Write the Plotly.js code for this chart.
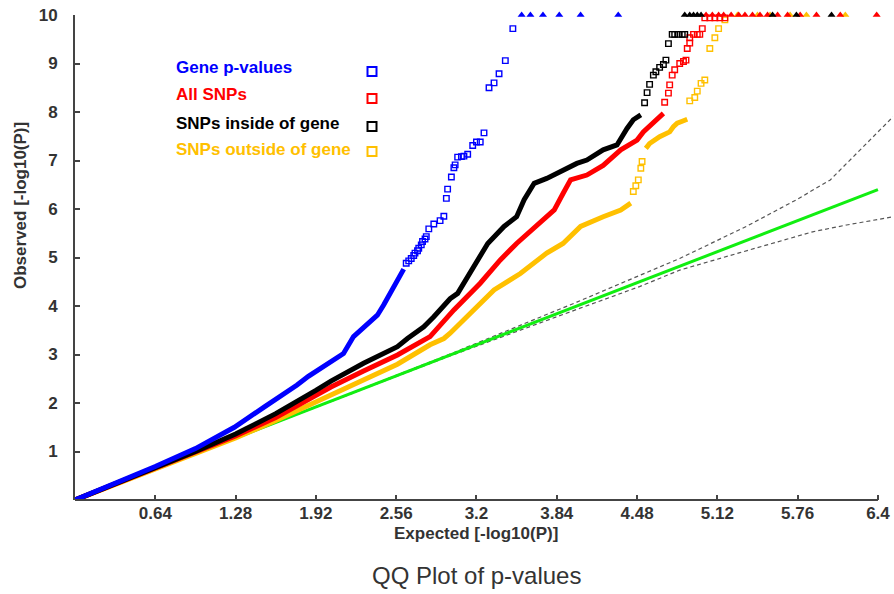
<!DOCTYPE html>
<html>
<head>
<meta charset="utf-8">
<script src="https://cdn.plot.ly/plotly-3.0.1.min.js"></script>
<style>html,body{margin:0;padding:0;background:#fff;}#chart{width:894px;height:594px;}</style>
</head>
<body>
<div id="chart"></div>
<script>
// ---- Data ----
const xTickVals = [0.64, 1.28, 1.92, 2.56, 3.2, 3.84, 4.48, 5.12, 5.76, 6.4];
const xTickText = ["0.64", "1.28", "1.92", "2.56", "3.2", "3.84", "4.48", "5.12", "5.76", "6.4"];
const yTickVals = [1, 2, 3, 4, 5, 6, 7, 8, 9, 10];

const seriesNames = ["Gene p-values", "All SNPs", "SNPs inside of gene", "SNPs outside of gene"];
const seriesColors = ["#0000ff", "#ff0000", "#000000", "#ffc000"];

// Gene p-values (blue)
const geneDenseX = [0, 0.32, 0.64, 0.96, 1.27, 1.51, 1.59, 1.77, 1.86, 1.99, 2.04, 2.14, 2.22, 2.33, 2.41, 2.46, 2.52, 2.57, 2.62];
const geneDenseY = [0, 0.34, 0.69, 1.06, 1.50, 1.92, 2.05, 2.37, 2.55, 2.78, 2.85, 3.02, 3.37, 3.61, 3.81, 4.02, 4.30, 4.50, 4.76];
const geneSparseX = [2.64, 2.66, 2.68, 2.70, 2.71, 2.73, 2.74, 2.76, 2.77, 2.79, 2.80, 2.82, 2.86, 2.91, 2.94, 2.96, 2.97, 3.00, 3.02, 3.03, 3.05, 3.08, 3.10, 3.13, 3.17, 3.20, 3.23, 3.26, 3.30, 3.34, 3.38, 3.43, 3.49];
const geneSparseY = [4.88, 4.93, 4.98, 5.04, 5.09, 5.14, 5.19, 5.26, 5.33, 5.38, 5.43, 5.59, 5.69, 5.76, 5.85, 6.22, 6.41, 6.66, 6.85, 6.91, 7.07, 7.08, 7.09, 7.13, 7.31, 7.38, 7.38, 7.57, 8.50, 8.60, 8.79, 9.06, 9.72];
const geneTopX = [3.56, 3.63, 3.73, 3.86, 4.03, 4.33];

// All SNPs (red)
const allDenseX = [0, 0.32, 0.64, 0.96, 1.28, 1.60, 1.92, 2.04, 2.30, 2.57, 2.83, 3.02, 3.23, 3.39, 3.52, 3.68, 3.82, 3.89, 3.95, 4.08, 4.21, 4.35, 4.48, 4.53, 4.64, 4.69];
const allDenseY = [0, 0.33, 0.66, 0.99, 1.32, 1.70, 2.15, 2.33, 2.66, 2.99, 3.37, 3.92, 4.47, 4.95, 5.29, 5.64, 5.98, 6.32, 6.60, 6.70, 6.90, 7.22, 7.42, 7.59, 7.87, 7.97];
const allSparseX = [4.70, 4.73, 4.74, 4.76, 4.78, 4.82, 4.85, 4.87, 4.88, 4.90, 4.90, 4.93, 4.96, 4.98, 5.00, 5.02, 5.06, 5.10, 5.14, 5.18];
const allSparseY = [8.20, 8.39, 8.56, 8.76, 8.87, 9.00, 9.04, 9.07, 9.31, 9.42, 9.53, 9.60, 9.60, 9.60, 9.72, 9.94, 9.94, 9.94, 9.94, 9.94];
const allTopX = [5.03, 5.08, 5.13, 5.17, 5.23, 5.29, 5.34, 5.40, 5.46, 5.52, 5.60, 5.68, 5.78, 5.91, 6.10, 6.39];

// SNPs inside of gene (black)
const insideDenseX = [0, 0.32, 0.64, 0.96, 1.28, 1.60, 1.92, 2.04, 2.30, 2.57, 2.65, 2.78, 2.86, 2.99, 3.05, 3.18, 3.29, 3.42, 3.52, 3.58, 3.66, 3.76, 3.92, 4.00, 4.08, 4.19, 4.21, 4.32, 4.37, 4.40, 4.45, 4.51];
const insideDenseY = [0, 0.33, 0.67, 1.00, 1.36, 1.78, 2.26, 2.45, 2.82, 3.16, 3.33, 3.57, 3.78, 4.15, 4.26, 4.81, 5.29, 5.64, 5.84, 6.19, 6.53, 6.63, 6.84, 6.94, 7.01, 7.18, 7.22, 7.32, 7.56, 7.66, 7.84, 7.94];
const insideSparseX = [4.54, 4.56, 4.58, 4.61, 4.63, 4.66, 4.69, 4.71, 4.73, 4.76, 4.78, 4.81, 4.84, 4.86];
const insideSparseY = [8.19, 8.40, 8.57, 8.76, 8.83, 8.92, 8.98, 9.07, 9.41, 9.60, 9.60, 9.60, 9.60, 9.60];
const insideTopX = [4.86, 4.90, 4.93, 4.96, 4.99, 5.56, 5.75, 6.03];

// SNPs outside of gene (gold)
const outsideDenseX = [0, 0.32, 0.64, 0.96, 1.28, 1.60, 1.92, 2.04, 2.30, 2.57, 2.83, 2.94, 2.99, 3.18, 3.34, 3.55, 3.76, 3.89, 4.03, 4.21, 4.35, 4.43, null, 4.55, 4.58, 4.66, 4.74, 4.77, 4.80, 4.84, 4.88];
const outsideDenseY = [0, 0.32, 0.64, 0.97, 1.28, 1.64, 2.02, 2.18, 2.48, 2.80, 3.20, 3.33, 3.44, 3.92, 4.33, 4.67, 5.09, 5.29, 5.64, 5.84, 5.98, 6.12, null, 7.25, 7.35, 7.49, 7.59, 7.70, 7.77, 7.81, 7.85];
const outsideSparseX = [4.45, 4.47, 4.49, 4.51, 4.52, 4.90, 4.94, 4.96, 4.99, 5.02, 5.06, 5.10, 5.13, 5.18];
const outsideSparseY = [6.36, 6.48, 6.60, 6.84, 6.98, 8.23, 8.30, 8.43, 8.59, 8.66, 9.31, 9.53, 9.72, 9.90];
const outsideTopX = [5.28, 5.44, 5.54, 5.70, 5.83, 6.14];

const topY = 10;

// Expected line and confidence band
const expectedX = [0, 6.4];
const expectedY = [0, 6.4];
const upperX = [0, 1, 2, 3, 3.5, 4.0, 4.5, 4.82, 5.35, 5.75, 6.02, 6.23, 6.52];
const upperY = [0, 1.0, 2.0, 3.02, 3.55, 4.08, 4.63, 4.98, 5.64, 6.19, 6.60, 7.15, 7.90];
const lowerX = [0, 1, 2, 3, 3.5, 4.0, 4.5, 4.82, 5.30, 5.62, 5.88, 6.15, 6.52];
const lowerY = [0, 1.0, 1.99, 2.98, 3.46, 3.93, 4.40, 4.74, 5.10, 5.33, 5.53, 5.67, 5.84];

// ---- Build traces ----
const axisColor = "#444444";
const textColor = "#333333";
const FONT = "Liberation Sans, Arial, sans-serif";

const traces = [];
traces.push({x: upperX, y: upperY, mode: "lines", line: {color: "#555", width: 1.2, dash: "4px,3px"}, hoverinfo: "skip"});
traces.push({x: lowerX, y: lowerY, mode: "lines", line: {color: "#555", width: 1.2, dash: "4px,3px"}, hoverinfo: "skip"});
traces.push({x: expectedX, y: expectedY, mode: "lines", line: {color: "#11ee11", width: 3}, hoverinfo: "skip"});

const groups = [
  [geneDenseX, geneDenseY, geneSparseX, geneSparseY, geneTopX],
  [allDenseX, allDenseY, allSparseX, allSparseY, allTopX],
  [insideDenseX, insideDenseY, insideSparseX, insideSparseY, insideTopX],
  [outsideDenseX, outsideDenseY, outsideSparseX, outsideSparseY, outsideTopX]
];
// draw order: outside, all, inside, gene (gene on top)
[3, 1, 2, 0].forEach(function (i) {
  const g = groups[i];
  const c = seriesColors[i];
  traces.push({x: g[0], y: g[1], mode: "lines", connectgaps: false, line: {color: c, width: 5}, name: seriesNames[i]});
  traces.push({x: g[2], y: g[3], mode: "markers", cliponaxis: false,
    marker: {symbol: "square-open", size: 5.5, color: c, line: {width: 1.4, color: c}}, name: seriesNames[i]});
  traces.push({x: g[4], y: g[4].map(function () { return topY; }), mode: "markers", cliponaxis: false,
    marker: {symbol: "triangle-up", size: 7, color: c}, name: seriesNames[i]});
});

// ---- Legend (text + squares) ----
const L = 75, T = 15, PW = 818, PH = 485;
function px2paperX(p) { return (p - L) / PW; }
function py2paperY(p) { return (T + PH - p) / PH; }
const legendTextY = [68, 95, 123, 149];
const legendBoxY = [71.5, 98.5, 126.5, 151.5];
const annotations = [];
const shapes = [];
seriesNames.forEach(function (n, i) {
  annotations.push({xref: "paper", yref: "paper", x: px2paperX(174), y: py2paperY(legendTextY[i]),
    xanchor: "left", yanchor: "middle", showarrow: false, text: "<b>" + n + "</b>",
    font: {family: FONT, size: 17, color: seriesColors[i]}});
  const cx = 372, cy = legendBoxY[i], h = 4.5;
  shapes.push({type: "rect", xref: "paper", yref: "paper",
    x0: px2paperX(cx - h), x1: px2paperX(cx + h), y0: py2paperY(cy + h), y1: py2paperY(cy - h),
    line: {color: seriesColors[i], width: 2}, fillcolor: "rgba(0,0,0,0)"});
});
// axis titles and chart title
annotations.push({xref: "paper", yref: "paper", x: px2paperX(476), y: py2paperY(533), xanchor: "center", yanchor: "middle",
  showarrow: false, text: "<b>Expected [-log10(P)]</b>", font: {family: FONT, size: 17, color: textColor}});
annotations.push({xref: "paper", yref: "paper", x: px2paperX(20), y: py2paperY(206), xanchor: "center", yanchor: "middle",
  showarrow: false, textangle: -90, text: "<b>Observed [-log10(P)]</b>", font: {family: FONT, size: 17, color: textColor}});
annotations.push({xref: "paper", yref: "paper", x: px2paperX(476), y: py2paperY(575), xanchor: "center", yanchor: "middle",
  showarrow: false, text: "QQ Plot of p-values", font: {family: FONT, size: 24, color: textColor}});
// x axis line only from 0 to 6.4
shapes.push({type: "line", xref: "x", yref: "paper", x0: 0, x1: 6.4, y0: 0, y1: 0, line: {color: axisColor, width: 2}});

const layout = {
  width: 894, height: 594,
  margin: {l: L, r: 894 - L - PW, t: T, b: 594 - T - PH, pad: 0},
  paper_bgcolor: "#ffffff", plot_bgcolor: "#ffffff",
  showlegend: false,
  xaxis: {range: [0, 6.52], showgrid: false, zeroline: false, showline: false,
    tickmode: "array", tickvals: xTickVals, ticktext: xTickText,
    ticks: "inside", ticklen: 5, tickwidth: 2, tickcolor: axisColor, ticklabelstandoff: 1,
    tickfont: {family: FONT, size: 17, color: textColor, weight: "bold"}},
  yaxis: {range: [0, 10], showgrid: false, zeroline: false, showline: true, linecolor: axisColor, linewidth: 2,
    tickmode: "array", tickvals: yTickVals,
    ticks: "inside", ticklen: 5, tickwidth: 2, tickcolor: axisColor, ticklabelstandoff: 12,
    tickfont: {family: FONT, size: 17, color: textColor, weight: "bold"}},
  annotations: annotations,
  shapes: shapes
};

Plotly.newPlot("chart", traces, layout, {displayModeBar: false, staticPlot: true});
</script>
</body>
</html>
